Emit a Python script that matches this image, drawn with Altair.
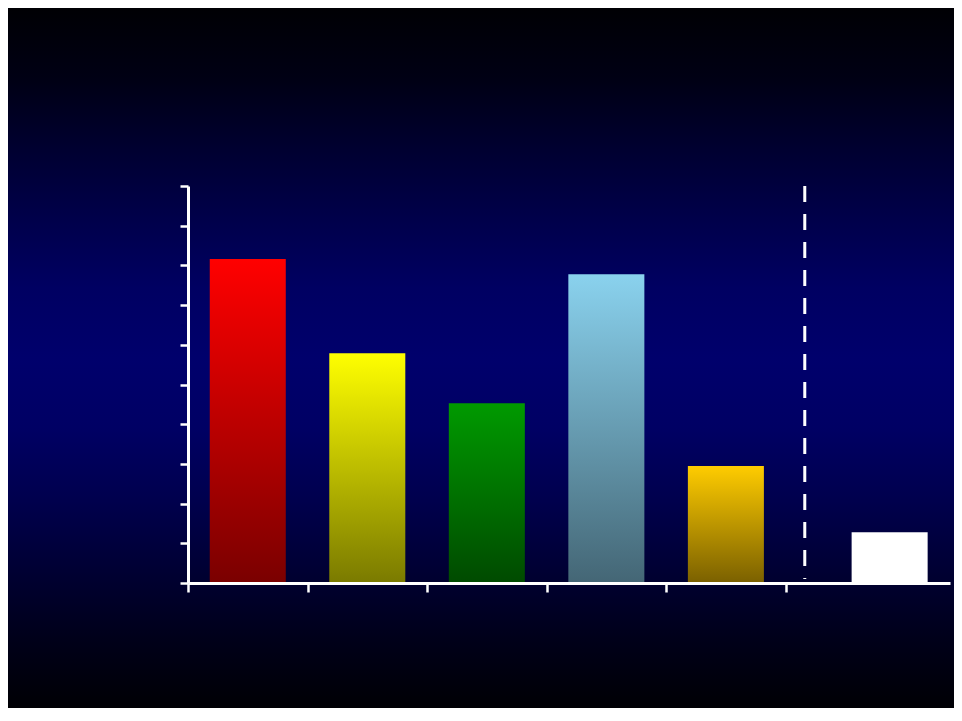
import altair as alt
import pandas as pd

# ---- data ----
categories = ["A", "B", "C", "D", "E", "F"]
positions = [0.5, 1.5, 2.5, 3.5, 4.5, 5.87]
values = [81.6, 57.9, 45.3, 77.8, 29.5, 12.8]
top_colors = ["#FF0000", "#FFFF00", "#009A00", "#8AD2EE", "#FFCC00", "#FFFFFF"]
bottom_colors = ["#7A0000", "#7A7A00", "#004A00", "#446675", "#7A6000", "#FFFFFF"]
y_ticks = [0, 10, 20, 30, 40, 50, 60, 70, 80, 90, 100]
x_ticks = [0, 1, 2, 3, 4, 5]
divider_x = [5.16]

df = pd.DataFrame({"cat": categories, "pos": positions, "value": values})

W, H = 762, 397
PAD = {"left": 180, "top": 178, "right": 4, "bottom": 125}

x_scale = alt.Scale(domain=[0, 6.375], nice=False, zero=False)
y_scale = alt.Scale(domain=[0, 100], nice=False)

x_axis = alt.Axis(values=x_ticks, labels=False, title=None, grid=False,
                  domainColor="white", domainWidth=3, tickColor="white",
                  tickWidth=2.5, tickSize=9, zindex=2)
y_axis = alt.Axis(values=y_ticks, labels=False, title=None, grid=False,
                  domainColor="white", domainWidth=3, tickColor="white",
                  tickWidth=2.5, tickSize=8, zindex=2)

bg_stops = [
    (0.0, "#000004"), (0.1, "#000014"), (0.2, "#000030"), (0.3, "#00004A"),
    (0.4, "#000062"), (0.5, "#00006C"), (0.6, "#000064"), (0.7, "#00004E"),
    (0.8, "#000034"), (0.9, "#00001A"), (1.0, "#000004"),
]
bg_gradient = {
    "gradient": "linear", "x1": 0, "y1": 0, "x2": 0, "y2": 1,
    "stops": [{"offset": o, "color": c} for o, c in bg_stops],
}

background = alt.Chart(pd.DataFrame({"a": [0]})).mark_rect(fill=bg_gradient, strokeWidth=0).encode(
    x=alt.value(-PAD["left"]),
    x2=alt.value(W + PAD["right"]),
    y=alt.value(-PAD["top"]),
    y2=alt.value(H + PAD["bottom"]),
)

base = alt.Chart(df).transform_calculate(
    x0="datum.pos - 0.318", x1="datum.pos + 0.318"
)

layers = [background]
for i, c in enumerate(categories):
    grad = {
        "gradient": "linear", "x1": 0, "y1": 0, "x2": 0, "y2": 1,
        "stops": [
            {"offset": 0, "color": top_colors[i]},
            {"offset": 1, "color": bottom_colors[i]},
        ],
    }
    layers.append(
        base.transform_filter(alt.datum.cat == c).mark_bar(fill=grad, strokeWidth=0).encode(
            x=alt.X("x0:Q", scale=x_scale, axis=x_axis),
            x2="x1:Q",
            y=alt.Y("value:Q", scale=y_scale, axis=y_axis),
            y2=alt.datum(0),
        )
    )

divider = alt.Chart(pd.DataFrame({"x": divider_x, "ytop": [100], "ybot": [1]})).mark_rule(
    color="white", strokeWidth=3, strokeDash=[16, 12]
).encode(
    x=alt.X("x:Q", scale=x_scale, axis=x_axis),
    y=alt.Y("ytop:Q", scale=y_scale, axis=y_axis),
    y2="ybot:Q",
)
layers.append(divider)

chart = alt.layer(*layers).properties(
    width=W, height=H,
    padding=PAD,
    autosize=alt.AutoSizeParams(type="none"),
    background="#000000",
).configure_view(stroke=None)

chart.save("out.html", embed_options={"renderer": "svg", "actions": False})
